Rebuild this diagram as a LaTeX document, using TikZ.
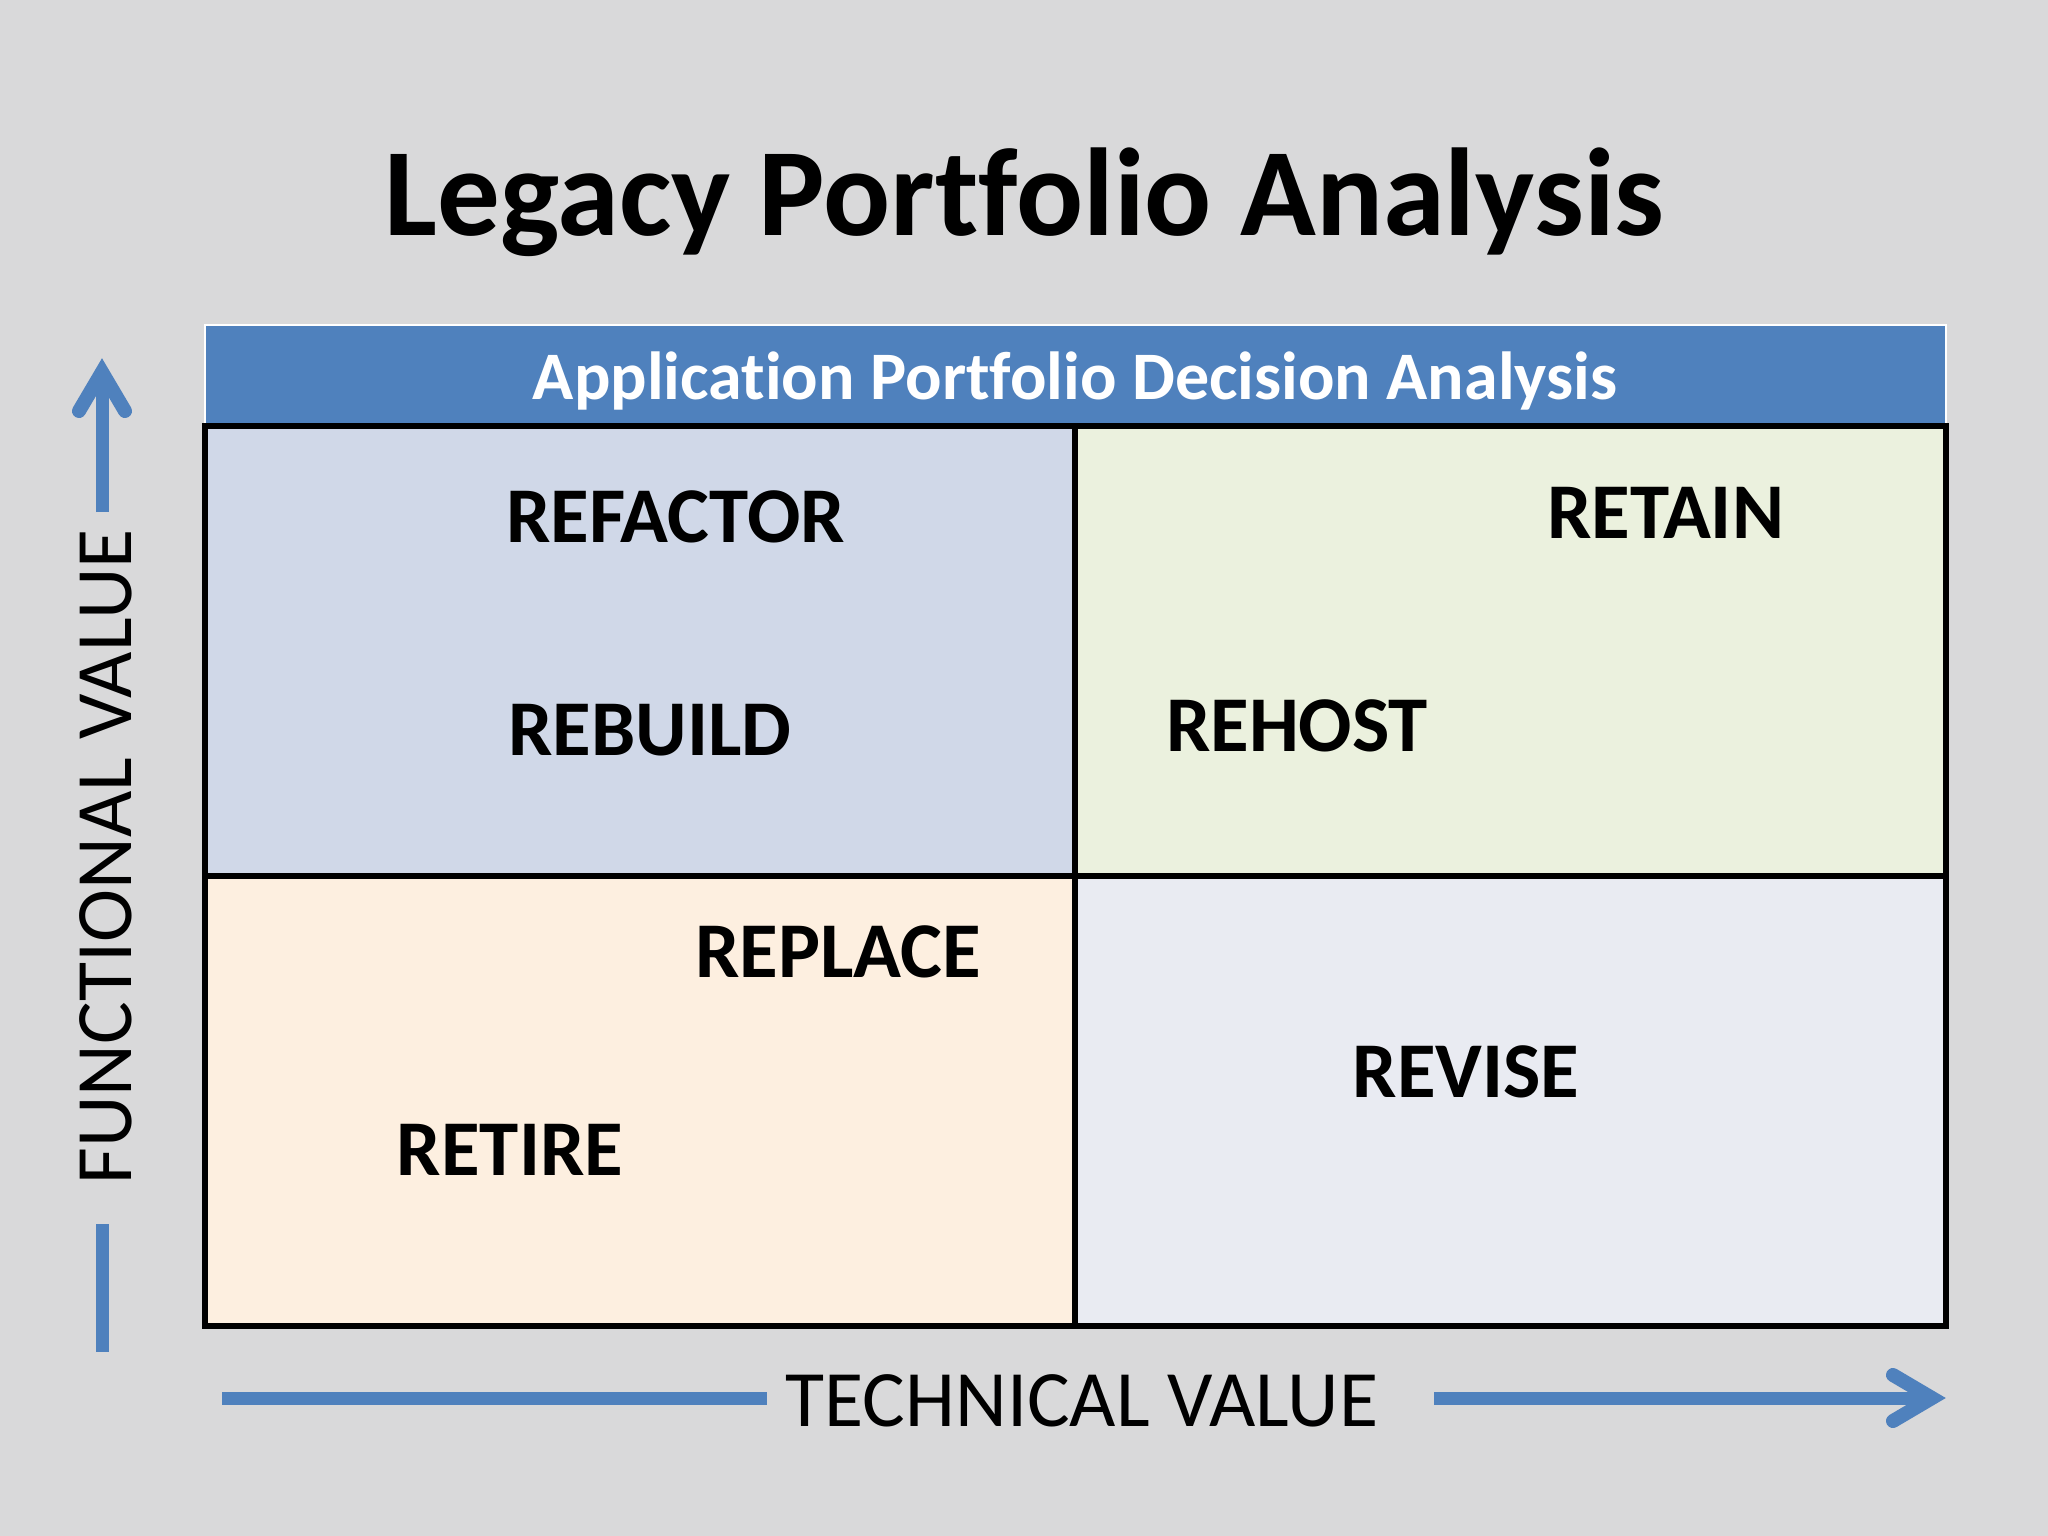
\documentclass[tikz,border=0pt]{standalone}
\usepackage{fontspec}
\setmainfont[Ligatures=NoCommon]{Carlito}
\definecolor{bgc}{HTML}{D9D9DA}
\definecolor{hdr}{HTML}{4F81BD}
\definecolor{qtl}{HTML}{D0D8E8}
\definecolor{qtr}{HTML}{EBF1DE}
\definecolor{qbl}{HTML}{FDEFE0}
\definecolor{qbr}{HTML}{E9EBF2}
\begin{document}
\begin{tikzpicture}[x=1pt,y=-1pt,
  quad/.style={draw=black,line width=6pt,inner sep=0pt,outer sep=0pt,minimum width=870pt,minimum height=450pt},
  lbl/.style={font=\fontsize{79}{81}\selectfont\bfseries,anchor=base,inner sep=0pt},
  axistext/.style={font=\fontsize{80}{82}\selectfont,anchor=base,inner sep=0pt},
  axisline/.style={draw=hdr,line width=13pt},
  chevron/.style={draw=hdr,line width=14pt,line cap=round,line join=miter}]
\fill[bgc] (0,0) rectangle (2048,1536);
\useasboundingbox (0,0) rectangle (2048,1536);
% title
\node[font=\fontsize{125}{127}\selectfont\bfseries,anchor=base,inner sep=0pt] (title) at (1024.5,235) {Legacy Portfolio Analysis};
% header band
\node[fill=hdr,draw=white,line width=2pt,inner sep=0pt,outer sep=0pt,minimum width=1741pt,minimum height=101pt] (hdrbox) at (1075.5,375.5) {};
\node[font=\fontsize{68}{70}\selectfont\bfseries,text=white,anchor=base,inner sep=0pt] (hdrtext) at (1075,399) {Application Portfolio Decision Analysis};
% quadrants
\node[quad,fill=qtl] (tl) at (640,651) {};
\node[quad,fill=qtr,minimum width=871pt] (tr) at (1510.5,651) {};
\node[quad,fill=qbl] (bl) at (640,1101) {};
\node[quad,fill=qbr,minimum width=871pt] (br) at (1510.5,1101) {};
% labels
\node[lbl] (refactor) at (675.5,542) {REFACTOR};
\node[lbl] (rebuild) at (650,755) {REBUILD};
\node[lbl] (retain) at (1665.5,538) {RETAIN};
\node[lbl] (rehost) at (1297,751) {REHOST};
\node[lbl] (replace) at (838,977) {REPLACE};
\node[lbl] (retire) at (510,1175) {RETIRE};
\node[lbl] (revise) at (1466,1097) {REVISE};
% axis texts
\node[axistext] (tech) at (1082,1426) {TECHNICAL VALUE};
\node[axistext,rotate=90] (func) at (131,857) {FUNCTIONAL VALUE};
% vertical axis
\coordinate (vtip) at (102,372);
\coordinate (vtop) at (102,512);
\coordinate (vlow1) at (102,1224);
\coordinate (vlow2) at (102,1352);
\draw[axisline] (vtop) -- (vtip);
\draw[chevron] ([xshift=-23pt,yshift=-39pt]vtip) -- (vtip) -- ([xshift=23pt,yshift=-39pt]vtip);
\draw[axisline] (vlow1) -- (vlow2);
% horizontal axis
\coordinate (hl1) at (222,1398);
\coordinate (hl2) at (767,1398);
\coordinate (hr1) at (1434,1398);
\coordinate (htip) at (1932,1398);
\draw[axisline] (hl1) -- (hl2);
\draw[axisline] (hr1) -- (htip);
\draw[chevron] ([xshift=-39pt,yshift=-23pt]htip) -- (htip) -- ([xshift=-39pt,yshift=23pt]htip);
\end{tikzpicture}
\end{document}
